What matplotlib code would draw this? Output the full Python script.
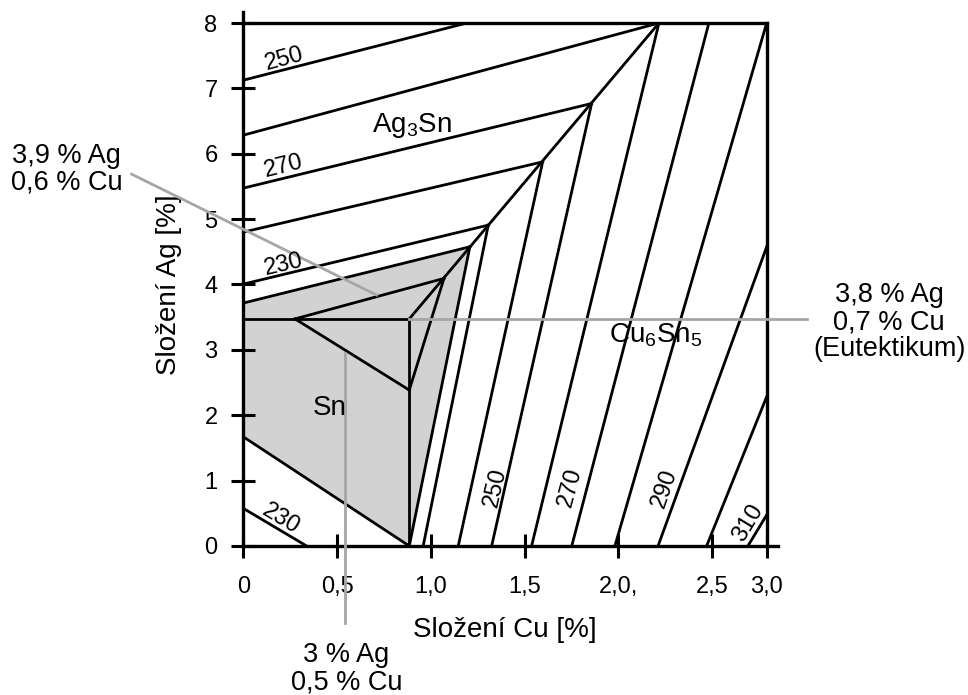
import matplotlib
matplotlib.use("Agg")
import matplotlib.pyplot as plt

plt.rcParams['font.family'] = ['Liberation Sans', 'DejaVu Sans']
plt.rcParams['mathtext.fontset'] = 'custom'
plt.rcParams['mathtext.rm'] = 'Liberation Sans'
plt.rcParams['mathtext.it'] = 'Liberation Sans'

# osa x je v originalu nerovnomerna: 3,0 lezi na okraji ramecku (x = 2.79)
x_ticks = [0, 0.5, 1.0, 1.5, 2.0, 2.5, 2.79]
x_tick_labels = ['0', '0,5', '1,0', '1,5', '2,0,', '2,5', '3,0']
y_ticks = [0, 1, 2, 3, 4, 5, 6, 7, 8]
x_max = 2.79
y_max = 8

# body diagramu (Cu %, Ag %)
eutectic = (0.885, 3.474)
apex_top = (2.216, 8.0)

# izotermy v oblasti Ag3Sn: od osy Ag k diagonale
ag3sn_x0 = [0, 0, 0, 0, 0]
ag3sn_y0 = [7.125, 6.284, 5.474, 4.801, 4.006]
ag3sn_x1 = [1.192, 2.216, 1.857, 1.596, 1.306]
ag3sn_y1 = [8.0, 8.0, 6.769, 5.876, 4.908]

# izotermy v oblasti Cu6Sn5: od horniho/praveho okraje k ose Cu
cu6sn5_x0 = [1.306, 1.596, 1.857, 2.216, 2.482, 2.79, 2.79, 2.79, 2.79]
cu6sn5_y0 = [4.908, 5.876, 6.769, 8.0, 8.0, 8.0, 4.576, 2.283, 0.474]
cu6sn5_x1 = [0.959, 1.146, 1.324, 1.537, 1.751, 1.981, 2.211, 2.470, 2.690]

# seda oblast Sn
sn_x = [0, 1.208, 0.885, 0]
sn_y = [3.716, 4.577, 0, 1.671]

# vnitrni cary (trojuhelniky u eutektika)
inner_x0 = [0, 0.885, 0.276, 0.276, 0.885, 0, 0]
inner_y0 = [3.474, 0, 3.474, 3.474, 2.385, 1.671, 0.576]
inner_x1 = [0.885, 0.885, 0.885, 1.070, 1.070, 0.885, 0.338]
inner_y1 = [3.474, 3.474, 2.385, 4.093, 4.093, 0, 0]

# popisky izoterm
iso_text = ['250', '270', '230', '230', '250', '270', '290', '310']
iso_x = [0.217, 0.217, 0.217, 0.201, 1.342, 1.742, 2.248, 2.689]
iso_y = [7.446, 5.810, 4.297, 0.413, 0.902, 0.902, 0.887, 0.352]
iso_rot = [15, 14, 13, -31, 77, 75, 71, 59]

# sede odkazy na slozeni
ref_lines = [
    ((eutectic[0], 3.003), (eutectic[1], eutectic[1])),
    ((0.542, 0.542), (2.946, -1.177)),
    ((-0.595, 0.711), (5.688, 3.838)),
]
ref_text = ['3,9 % Ag\n0,6 % Cu', '3,8 % Ag\n0,7 % Cu\n(Eutektikum)', '3 % Ag\n0,5 % Cu']
ref_x = [-0.942, 3.443, 0.551]
ref_y = [5.76, 3.425, -1.881]

lw = 2.0
black = '#000000'
grey = '#a6a6a6'

fig = plt.figure(figsize=(9.68, 6.95), dpi=100)
ax = fig.add_axes([0.2513, 0.2144, 0.5407, 0.7525])
ax.set_xlim(0, x_max)
ax.set_ylim(0, y_max)
for s in ax.spines.values():
    s.set_visible(False)

ax.fill(sn_x, sn_y, color='#d2d2d2', zorder=1, lw=0)

for x0, y0, x1, y1 in zip(ag3sn_x0, ag3sn_y0, ag3sn_x1, ag3sn_y1):
    ax.plot([x0, x1], [y0, y1], color=black, lw=lw, zorder=3)
for x0, y0, x1 in zip(cu6sn5_x0, cu6sn5_y0, cu6sn5_x1):
    ax.plot([x0, x1], [y0, 0], color=black, lw=lw, zorder=3)
for x0, y0, x1, y1 in zip(inner_x0, inner_y0, inner_x1, inner_y1):
    ax.plot([x0, x1], [y0, y1], color=black, lw=lw, zorder=3)

# hranice Sn oblasti a diagonala eutektikum -> vrchol
ax.plot([sn_x[0], sn_x[1]], [sn_y[0], sn_y[1]], color=black, lw=lw, zorder=3)
ax.plot([sn_x[1], sn_x[2]], [sn_y[1], sn_y[2]], color=black, lw=lw, zorder=3)
ax.plot([eutectic[0], apex_top[0]], [eutectic[1], apex_top[1]], color=black, lw=lw, zorder=3)

# ramecek a osy
ax.plot([0, x_max + 0.06], [0, 0], color=black, lw=2.4, clip_on=False, zorder=4)
ax.plot([0, 0], [0, y_max + 0.17], color=black, lw=2.4, clip_on=False, zorder=4)
ax.plot([0, x_max], [y_max, y_max], color=black, lw=2.4, clip_on=False, zorder=4)
ax.plot([x_max, x_max], [0, y_max], color=black, lw=2.4, clip_on=False, zorder=4)

for (xs, ys) in ref_lines:
    ax.plot(xs, ys, color=grey, lw=2.0, clip_on=False, zorder=5)

for t, x, y, r in zip(iso_text, iso_x, iso_y, iso_rot):
    ax.text(x, y, t, fontsize=17, rotation=r, ha='center', va='center',
            rotation_mode='anchor', zorder=6)

for t, x, y in zip(ref_text, ref_x, ref_y):
    ax.text(x, y, t, fontsize=19.5, ha='center', va='center', linespacing=1.05,
            clip_on=False)

ax.text(0.898, 6.43, 'Ag$_3$Sn', fontsize=20, ha='center', va='center', zorder=6)
ax.text(2.20, 3.226, 'Cu$_6$Sn$_5$', fontsize=20, ha='center', va='center', zorder=6)
ax.text(0.462, 2.11, 'Sn', fontsize=20, ha='center', va='center', zorder=6)

ax.set_xticks(x_ticks)
ax.set_xticklabels(x_tick_labels)
ax.set_yticks(y_ticks)
ax.tick_params(direction='inout', length=17, width=2.2, labelsize=17, pad=13)
ax.tick_params(axis='y', pad=10)

ax.set_xlabel('Složení Cu [%]', fontsize=20, labelpad=14)
ax.set_ylabel('Složení Ag [%]', fontsize=20, labelpad=16)

fig.savefig('out.png', dpi=100)
plt.close(fig)
